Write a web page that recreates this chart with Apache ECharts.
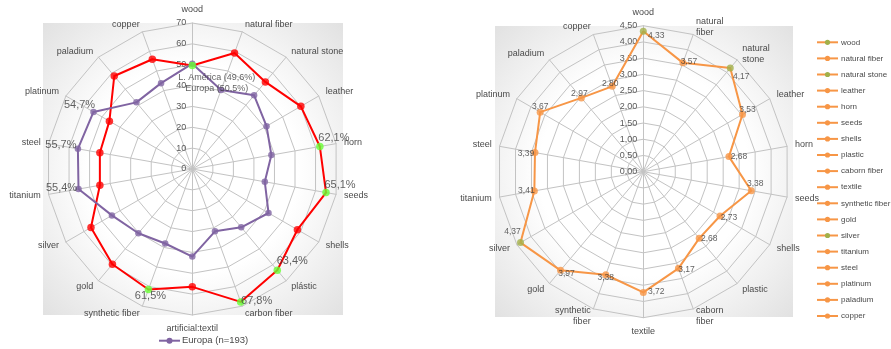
<!DOCTYPE html>
<html>
<head>
<meta charset="utf-8">
<script src="https://cdn.jsdelivr.net/npm/echarts@6/dist/echarts.min.js"></script>
<style>
  html, body { margin: 0; padding: 0; background: #ffffff; }
  #chart { width: 891px; height: 349px; }
</style>
</head>
<body>
<div id="chart"></div>
<script>
// ---------- Left radar: share of answers per material (%) ----------
const leftCategories = ['wood', 'natural fiber', 'natural stone', 'leather', 'horn', 'seeds', 'shells',
  'plástic', 'carbon fiber', 'artificial:textil', 'synthetic fiber', 'gold', 'silver', 'titanium',
  'steel', 'platinum', 'paladium', 'copper'];
const latamName = 'L. América';
const europaName = 'Europa';
const europaLegend = 'Europa (n=193)';
const latamValues = [49.6, 59.2, 54.5, 60.1, 62.1, 65.1, 58.2, 63.4, 67.8, 56.5, 61.5, 59.6, 56.1, 45.0, 45.0, 45.9, 58.2, 56.0];
const europaValues = [50.5, 40.3, 46.1, 41.1, 38.5, 35.3, 42.2, 36.5, 31.8, 42.0, 38.0, 40.2, 44.5, 55.4, 55.7, 54.7, 41.7, 43.8];
const leftMax = 70;
const leftSteps = 7;
const latamHighlighted = [0, 4, 5, 7, 8, 10];   // drawn in green
const latamLabelled = [4, 5, 7, 8, 10];
const europaLabelled = [13, 14, 15];

// ---------- Right radar: mean rating per material ----------
const rightCategories = ['wood', 'natural fiber', 'natural stone', 'leather', 'horn', 'seeds', 'shells',
  'plastic', 'caborn fiber', 'textile', 'synthetic fiber', 'gold', 'silver', 'titanium', 'steel',
  'platinum', 'paladium', 'copper'];
const rightAxisNames = ['wood', 'natural\nfiber', 'natural\nstone', 'leather', 'horn', 'seeds', 'shells',
  'plastic', 'caborn\nfiber', 'textile', 'synthetic\nfiber', 'gold', 'silver', 'titanium', 'steel',
  'platinum', 'paladium', 'copper'];
const ratingValues = [4.33, 3.57, 4.17, 3.53, 2.68, 3.38, 2.73, 2.68, 3.17, 3.72, 3.38, 3.97, 4.37, 3.41, 3.39, 3.67, 2.97, 2.80];
const rightMax = 4.5;
const rightSteps = 9;
const ratingHighlighted = [0, 2, 12];           // olive markers

// ---------- styling ----------
const FONT = '"Liberation Sans", Arial, sans-serif';
const RED = '#ff0000', GREEN = '#66ff33', PURPLE = '#8064a2';
const ORANGE = '#f79646', OLIVE = '#a2b04a';
const GRID = '#c3c3c3', TEXT = '#4a4a4a';

const leftCenter = [192.3, 169], rightCenter = [643.3, 171.7];
const radarRadius = 146;

// label offsets (px, relative to the marker centre)
const leftLabelOffsets = { 4: [14, -9], 5: [14, -8], 7: [15, -9], 8: [16, -1], 10: [2, 6], 13: [-17, -1], 14: [-17, -4], 15: [-14, -7] };
const rightLabelOffsets = [[13, 4], [6, -1], [11, 9], [5, -5], [10, 0], [4, -7], [9, 1.5], [10, 0], [8, 1], [13, -1],
  [0, 3], [6, 3], [-8, -11], [-8, 0], [-9, 1], [0, -6], [-2, -4], [-2, -3]];

const pct = v => v.toFixed(1).replace('.', ',') + '%';
const dec2 = v => v.toFixed(2).replace('.', ',');

// ECharts lays radar indicators out counter-clockwise; walk the list backwards
// so that the categories run clockwise from the top.
const n = leftCategories.length;
const ccwOrder = leftCategories.map((_, k) => (n - k) % n);
const reorder = arr => ccwOrder.map(i => arr[i]);

function buildIndicators(names, max) {
  return ccwOrder.map((i, k) => {
    const ind = { name: names[i], min: 0, max: max };
    if (k === 0) ind.axisLabel = { show: true };
    return ind;
  });
}

function radarBase(center, names, max, steps, fmt) {
  return {
    center: center,
    radius: radarRadius,
    startAngle: 90,
    shape: 'polygon',
    splitNumber: steps,
    indicator: buildIndicators(names, max),
    nameGap: 8,
    axisName: { color: TEXT, fontSize: 9, fontFamily: FONT, lineHeight: 11 },
    axisLine: { lineStyle: { color: GRID, width: 1 } },
    splitLine: { lineStyle: { color: GRID, width: 1 } },
    splitArea: { show: false },
    axisTick: { show: false },
    axisLabel: { show: false, fontSize: 9, fontFamily: FONT, color: '#595959', margin: 6, formatter: fmt }
  };
}

function hiddenAngle(polarIndex, cats) {
  return { polarIndex: polarIndex, type: 'category', data: cats, boundaryGap: false, startAngle: 90, clockwise: true, show: false };
}

// panel backgrounds (radial fade towards the edges)
function panel(x, y, w, h) {
  return {
    type: 'rect', z: -10, silent: true,
    shape: { x: x, y: y, width: w, height: h },
    style: {
      fill: new echarts.graphic.RadialGradient(0.5, 0.5, 0.72, [
        { offset: 0, color: '#ffffff' }, { offset: 0.5, color: '#ffffff' }, { offset: 1, color: '#e1e1e1' }
      ])
    }
  };
}

// left-hand legend
const legendY = 340.7;
const graphics = [
  panel(43, 23, 300, 292),
  panel(495, 26, 298, 291),
  { type: 'line', shape: { x1: 159, y1: legendY, x2: 180, y2: legendY }, style: { stroke: PURPLE, lineWidth: 2 } },
  { type: 'circle', shape: { cx: 169.5, cy: legendY, r: 3 }, style: { fill: PURPLE } },
  { type: 'text', x: 182, y: legendY, style: { text: europaLegend, fontSize: 9.5, fontFamily: FONT, fill: TEXT, verticalAlign: 'middle' } }
];
// right-hand legend, one entry per category
const legendTop = 42.3, legendStep = 16.1;
rightCategories.forEach((cat, i) => {
  const y = legendTop + i * legendStep;
  const col = ratingHighlighted.includes(i) ? OLIVE : ORANGE;
  graphics.push(
    { type: 'line', shape: { x1: 817, y1: y, x2: 838, y2: y }, style: { stroke: ORANGE, lineWidth: 2 } },
    { type: 'circle', shape: { cx: 827.5, cy: y, r: 2.6 }, style: { fill: col } },
    { type: 'text', x: 841, y: y, style: { text: cat, fontSize: 8, fontFamily: FONT, fill: TEXT, verticalAlign: 'middle' } }
  );
});

function offsetLabel(text, offset, size, align) {
  return {
    show: true, formatter: text, position: 'inside', offset: offset,
    align: align || 'center', verticalAlign: 'middle',
    fontSize: size, fontFamily: FONT, color: '#3a3a3a'
  };
}

// marker data for the left chart
const latamMarkers = latamValues.map((v, i) => {
  const item = { value: [v, i], itemStyle: { color: latamHighlighted.includes(i) ? GREEN : RED } };
  if (latamLabelled.includes(i)) item.label = offsetLabel(pct(v), leftLabelOffsets[i], 11);
  if (i === 0) item.label = offsetLabel(latamName + ' (' + pct(v) + ')', [-14, 11.5], 9, 'left');
  return item;
});
const europaMarkers = europaValues.map((v, i) => {
  const item = { value: [v, i] };
  if (europaLabelled.includes(i)) item.label = offsetLabel(pct(v), leftLabelOffsets[i], 11);
  if (i === 0) item.label = offsetLabel(europaName + ' (' + pct(v) + ')', [-7, 24.5], 9, 'left');
  return item;
});
const ratingMarkers = ratingValues.map((v, i) => ({
  value: [v, i],
  itemStyle: { color: ratingHighlighted.includes(i) ? OLIVE : ORANGE },
  label: offsetLabel(dec2(v), rightLabelOffsets[i], 8.5)
}));

const option = {
  animation: false,
  backgroundColor: '#ffffff',
  graphic: graphics,
  radar: [
    radarBase(leftCenter, leftCategories, leftMax, leftSteps, v => String(Math.round(v))),
    radarBase(rightCenter, rightAxisNames, rightMax, rightSteps, v => dec2(v))
  ],
  polar: [
    { center: leftCenter, radius: radarRadius },
    { center: rightCenter, radius: radarRadius }
  ],
  angleAxis: [hiddenAngle(0, leftCategories), hiddenAngle(1, rightCategories)],
  radiusAxis: [
    { polarIndex: 0, min: 0, max: leftMax, show: false },
    { polarIndex: 1, min: 0, max: rightMax, show: false }
  ],
  series: [
    {
      type: 'radar', radarIndex: 0, symbol: 'none', silent: true,
      lineStyle: { color: RED, width: 2 },
      data: [{ name: latamName, value: reorder(latamValues) }]
    },
    {
      type: 'radar', radarIndex: 0, symbol: 'none', silent: true,
      lineStyle: { color: PURPLE, width: 2 },
      data: [{ name: europaLegend, value: reorder(europaValues) }]
    },
    {
      type: 'scatter', coordinateSystem: 'polar', polarIndex: 0, symbolSize: 6.5,
      itemStyle: { color: PURPLE }, data: europaMarkers
    },
    {
      type: 'scatter', coordinateSystem: 'polar', polarIndex: 0, symbolSize: 7.5,
      data: latamMarkers
    },
    {
      type: 'radar', radarIndex: 1, symbol: 'none', silent: true,
      lineStyle: { color: ORANGE, width: 2 },
      data: [{ name: 'rating', value: reorder(ratingValues) }]
    },
    {
      type: 'scatter', coordinateSystem: 'polar', polarIndex: 1, symbolSize: 7,
      data: ratingMarkers
    }
  ]
};

const chart = echarts.init(document.getElementById('chart'), null, { renderer: 'canvas' });
chart.setOption(option);
</script>
</body>
</html>
